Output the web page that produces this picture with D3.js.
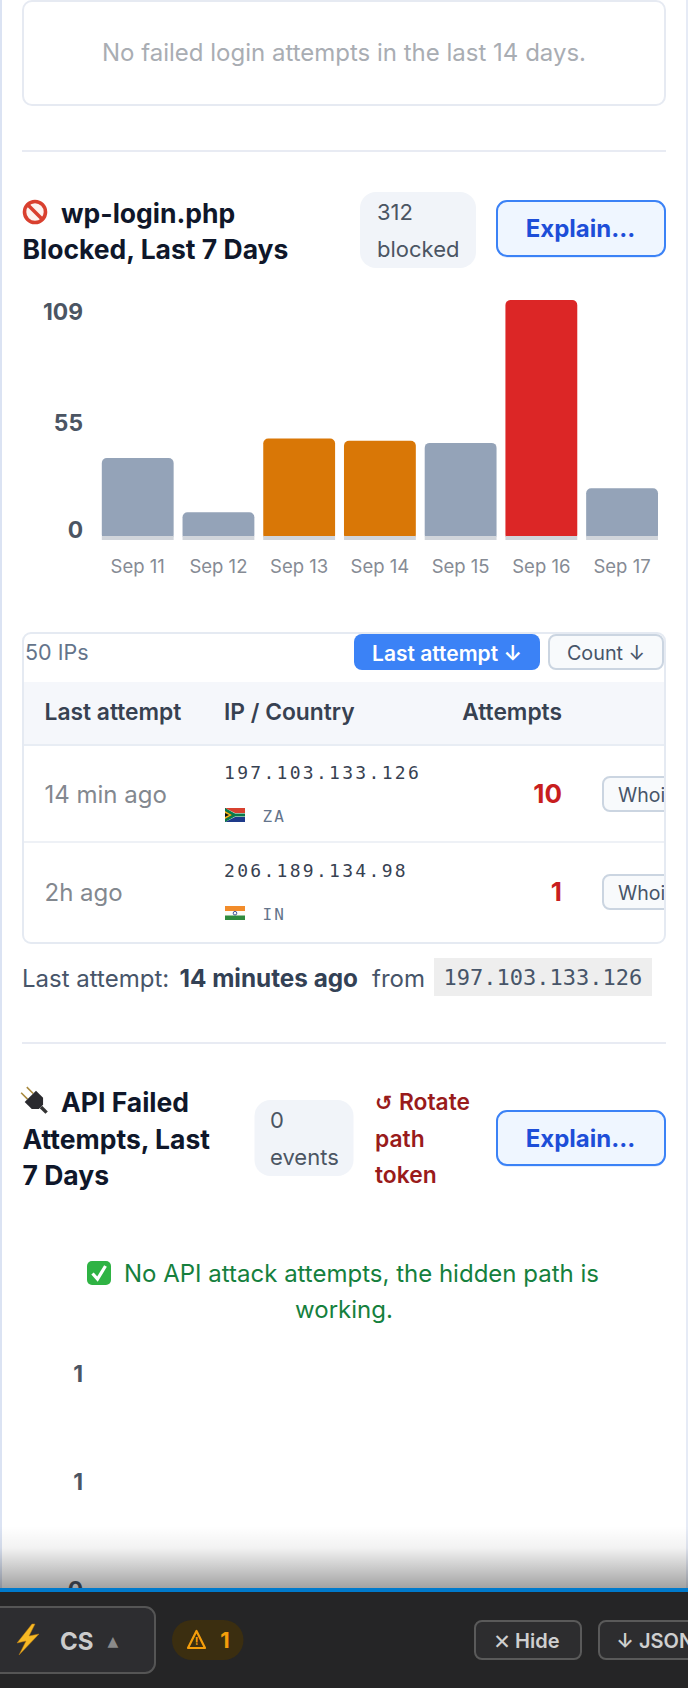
<!DOCTYPE html>
<html><head><meta charset="utf-8">
<script src="https://cdn.jsdelivr.net/npm/d3@7"></script>
<style>html,body{margin:0;padding:0;background:#fff;overflow:hidden}svg{display:block}text{font-family:Inter,"Noto Sans",sans-serif}</style>
</head><body><div id="chart"></div>
<script>
const days = ["Sep 11","Sep 12","Sep 13","Sep 14","Sep 15","Sep 16","Sep 17"];
const blocked = [36,11,45,44,43,109,22];
const blockedTicks = [109,55,0];
const apiTicks = ["1","1","0"];
const ipAge = ["14 min ago","2h ago"];
const ipAddr = ["197.103.133.126","206.189.134.98"];
const ipCountry = ["ZA","IN"];
const ipCount = [10,1];

const MONO='"DejaVu Sans Mono","Liberation Mono",monospace';
const svg=d3.select("#chart").append("svg").attr("width",688).attr("height",1688).attr("viewBox","0 0 688 1688");
const defs=svg.append("defs");
const clip=(id,x,y,w,h)=>defs.append("clipPath").attr("id",id).append("rect").attr("x",x).attr("y",y).attr("width",w).attr("height",h);
clip("cardClip",23,633,641,310);
clip("pageClip",0,0,688,1588);
const grad=defs.append("linearGradient").attr("id","fade").attr("x1",0).attr("x2",0).attr("y1",0).attr("y2",1);
grad.append("stop").attr("offset",0).attr("stop-color","#000").attr("stop-opacity",0);
grad.append("stop").attr("offset",.35).attr("stop-color","#000").attr("stop-opacity",.05);
grad.append("stop").attr("offset",1).attr("stop-color","#000").attr("stop-opacity",.36);

function T(p,x,y,s,o={}){
  const t=p.append("text").attr("x",x).attr("y",y).attr("dy",".36em").text(s)
   .attr("font-size",o.size||20).attr("font-weight",o.w||400).attr("fill",o.c||"#000")
   .attr("text-anchor",o.a||"start")
   .attr("letter-spacing",o.ls||null).attr("clip-path",o.clip||null);
  if(o.f) t.style("font-family",o.f);
  return t;
}
function R(p,x,y,w,h,o={}){
  return p.append("rect").attr("x",x).attr("y",y).attr("width",w).attr("height",h)
   .attr("rx",o.r||0).attr("fill",o.fill||"none").attr("stroke",o.s||null).attr("stroke-width",o.sw||null);
}
function L(p,x1,x2,y,c,sw){p.append("line").attr("x1",x1).attr("x2",x2).attr("y1",y).attr("y2",y).attr("stroke",c).attr("stroke-width",sw||2);}

R(svg,0,0,688,1688,{fill:"#fff"});
R(svg,0,0,2,1588,{fill:"#dbe3f3"}); R(svg,686,0,2,1588,{fill:"#e6ebf6"});

// top empty card
R(svg,23,1,642,104,{r:9,fill:"#fff",s:"#e6eaf2",sw:2});
T(svg,344,52,"No failed login attempts in the last 14 days.",{size:24,c:"#a9adb3",a:"middle"});
L(svg,22,666,151,"#e8ebf3");

// section heading
const titleStyle={size:26.5,w:700,c:"#0f172a"};
function noEntry(p,x,y){
  const g=p.append("g").attr("transform",`translate(${x},${y})`);
  g.append("circle").attr("r",10.5).attr("fill","#fdf3f0").attr("stroke","#d9402f").attr("stroke-width",3.6);
  g.append("line").attr("x1",-7.5).attr("y1",-7.5).attr("x2",7.5).attr("y2",7.5).attr("stroke","#d9402f").attr("stroke-width",3.6);
}
noEntry(svg,35,212);
T(svg,61,213,"wp-login.php",titleStyle);
T(svg,22.5,249,"Blocked, Last 7 Days",titleStyle);
function pill(x,y,w,h,a,b,ax){
  R(svg,x,y,w,h,{r:16,fill:"#f1f4f9"});
  T(svg,ax,y+20,a,{size:22,c:"#4b5563"});
  T(svg,ax,y+57,b,{size:22,c:"#4b5563"});
}
pill(360,192,116,76,"312","blocked",377);
function explain(y,h){
  R(svg,497,y+2,168,h,{r:10,fill:"#3b82f6"}).attr("fill-opacity",.14);
  R(svg,497,y,168,h,{r:10,fill:"#eff6ff",s:"#3b82f6",sw:2});
  T(svg,580.5,y+h/2,"Explain...",{size:24,w:700,c:"#1d4ed8",a:"middle"});
}
explain(201,55);

// bar chart
const x=d3.scaleBand().domain(days).range([101.8,658]).paddingInner(.11).paddingOuter(0);
const y=d3.scaleLinear().domain([0,109]).range([536,300]);
const yLabel=d3.scaleLinear().domain([0,55,109]).range([530,423,312]);
const color=d3.scaleThreshold().domain([44,100]).range(["#94a3b8","#d97706","#dc2626"]);
const gBars=svg.append("g");
gBars.selectAll("rect.bar").data(d3.zip(days,blocked)).join("rect").attr("class","bar")
  .attr("x",d=>x(d[0])).attr("width",x.bandwidth()).attr("y",d=>y(d[1])).attr("height",d=>y(0)-y(d[1])+4)
  .attr("rx",5).attr("fill",d=>color(d[1]));
gBars.selectAll("rect.base").data(days).join("rect").attr("class","base")
  .attr("x",d=>x(d)).attr("width",x.bandwidth()).attr("y",y(0)).attr("height",4).attr("fill","#d1d5db");
svg.append("g").selectAll("text").data(blockedTicks).join("text")
  .attr("x",83).attr("y",d=>yLabel(d)).attr("dy",".36em").attr("text-anchor","end")
  .attr("font-size",22.8).attr("font-weight",700).attr("fill","#4b5563").text(d=>d);
svg.append("g").selectAll("text").data(days).join("text")
  .attr("x",d=>x(d)+x.bandwidth()/2).attr("y",566).attr("dy",".36em").attr("text-anchor","middle")
  .attr("font-size",18.5).attr("fill","#868b94").text(d=>d);

// IP table
const card=svg.append("g");
R(card,23,633,642,310,{r:8,fill:"#fff",s:"#e5eaf2",sw:2});
T(card,25,652,"50 IPs",{size:21.5,c:"#64748b"});
R(card,354,634,186,36,{r:8,fill:"#3b82f6"});
T(card,447,653,"Last attempt ↓",{size:21,w:600,c:"#fff",a:"middle"});
R(card,549,635,114,34,{r:7,fill:"#f8fafc",s:"#cbd5e1",sw:2});
T(card,606,653,"Count ↓",{size:19.8,c:"#475569",a:"middle"});
R(card,24,682,640,62,{fill:"#f5f7fb"});
L(card,24,664,745,"#e8edf4",2);
const hd={size:22.8,w:600,c:"#374151"};
T(card,44.5,712,"Last attempt",hd);
T(card,224,712,"IP / Country",hd);
T(card,562,712,"Attempts",{...hd,a:"end"});
L(card,24,664,842,"#eef1f6",2);
function flagZA(p,x,y){
  const g=p.append("g").attr("transform",`translate(${x},${y})`);
  R(g,0,0,20,14,{fill:"#fff"});
  g.append("path").attr("d","M0 0H20V5H10Z").attr("fill","#d8412f");
  g.append("path").attr("d","M0 14H20V9H10Z").attr("fill","#1e3a8a");
  g.append("path").attr("d","M0 0L9 7L0 14Z").attr("fill","#111");
  g.append("path").attr("d","M0 0L10 5.6H20V8.4H10L0 14V11L7 7L0 3Z").attr("fill","#0a7a4a");
  g.append("path").attr("d","M0 3L7 7L0 11L0 9L4 7L0 5Z").attr("fill","#f4b81c");
}
function flagIN(p,x,y){
  const g=p.append("g").attr("transform",`translate(${x},${y})`);
  R(g,0,0,20,5,{fill:"#f28c2a"}); R(g,0,5,20,4.5,{fill:"#fbfbf6"}); R(g,0,9.5,20,4.5,{fill:"#2e8b3d"});
  g.append("circle").attr("cx",10).attr("cy",7.2).attr("r",1.8).attr("fill","none").attr("stroke","#2b3f8c").attr("stroke-width",.9);
}
const rowY=[794,892], flags=[flagZA,flagIN];
ipAge.forEach((a,i)=>{
  const c=rowY[i];
  T(card,44.5,c,a,{size:24,c:"#83888f"});
  T(card,224,c-21,ipAddr[i],{size:18,c:"#374151",f:MONO,ls:"2.3px"});
  flags[i](card,225,c+14);
  T(card,262.5,c+22,ipCountry[i],{size:16,c:"#64748b",f:MONO,ls:"2px"});
  T(card,562,c,ipCount[i],{size:26,w:700,c:"#c81e1e",a:"end"});
  const g=card.append("g").attr("clip-path","url(#cardClip)");
  R(g,603,c-17,80,34,{r:7,fill:"#f8fafc",s:"#cbd5e1",sw:2});
  T(g,618,c+1,"Whois",{size:19.5,c:"#475569"});
});

// last attempt footer
const ft={size:24,c:"#475569"};
T(svg,22,978,"Last attempt:",ft);
T(svg,179.5,978,"14 minutes ago",{size:24.3,w:700,c:"#334155"});
T(svg,372,978,"from",ft);
R(svg,434,958,218,38,{fill:"#eeeeee"});
T(svg,443.5,977,ipAddr[0],{size:22,c:"#475569",f:MONO});
L(svg,22,666,1043,"#e8ebf3");

// API section
function plug(p,x,y){
  const g=p.append("g").attr("transform",`translate(${x},${y}) rotate(45)`);
  g.append("path").attr("d","M-17 -4H-8M-17 4H-8").attr("stroke","#a98a3f").attr("stroke-width",1.6);
  g.append("path").attr("d","M-8 -8H2L7 -3V3L2 8H-8Z").attr("fill","#2a2a2e");
  g.append("path").attr("d","M7 0H15").attr("stroke","#333").attr("stroke-width",3.4);
}
plug(svg,36,1102);
T(svg,61,1102,"API Failed",titleStyle);
T(svg,22.5,1139,"Attempts, Last",titleStyle);
T(svg,22.5,1175,"7 Days",titleStyle);
pill(254.5,1100,99,76,"0","events",270);
const rot={size:22.8,w:600,c:"#991b1b"};
T(svg,375,1102,"↺",{...rot,f:'"DejaVu Sans"',size:21,w:700});
T(svg,399,1102,"Rotate",rot);
T(svg,375,1139,"path",rot);
T(svg,375,1175,"token",rot);
explain(1111,54);

// green note
const ck=svg.append("g").attr("transform","translate(87,1261)");
R(ck,0,0,24,24,{r:5,fill:"#2fb344"});
ck.append("path").attr("d","M5.5 12.5L10.5 18L18.5 5").attr("fill","none").attr("stroke","#fff").attr("stroke-width",3.2);
const gr={size:24,c:"#15803d"};
T(svg,124,1273,"No API attack attempts, the hidden path is",gr);
T(svg,344,1309,"working.",{...gr,a:"middle"});

// empty API chart axis
const apiY=d3.scalePoint().domain(d3.range(apiTicks.length)).range([1374,1590]);
svg.append("g").attr("clip-path","url(#pageClip)").selectAll("text").data(apiTicks).join("text")
  .attr("x",83).attr("y",(d,i)=>apiY(i)).attr("dy",".36em").attr("text-anchor","end")
  .attr("font-size",22.8).attr("font-weight",700).attr("fill","#4b5563").text(d=>d);

// fade & bottom bar
R(svg,0,1526,688,62,{fill:"url(#fade)"});
R(svg,0,1588,688,4,{fill:"#007acc"});
R(svg,0,1592,688,96,{fill:"#252526"});
R(svg,-12,1607,167,66,{r:10,fill:"#2d2d30",s:"#555",sw:2});
svg.append("path").attr("d","M32 1624L17 1643L26 1641L19 1655L39 1634L29 1636L35 1624Z").attr("fill","#f7b924").attr("stroke","#b97a10").attr("stroke-width",.5);
T(svg,60,1641,"CS",{size:24,w:700,c:"#cccccc"});
T(svg,113,1641,"▲",{size:14,c:"#8a8a8a",a:"middle",f:'"DejaVu Sans"'});
R(svg,172,1620,71.5,40,{r:20,fill:"#3b2e10"});
svg.append("path").attr("d","M196.5 1631L205 1648H188Z").attr("fill","none").attr("stroke","#f59e0b").attr("stroke-width",2.2).attr("stroke-linejoin","round");
T(svg,196.5,1641.5,"!",{size:11,w:700,c:"#f59e0b",a:"middle"});
T(svg,225,1640,"1",{size:22,w:700,c:"#f59e0b",a:"middle"});
R(svg,475,1621,106,38,{r:7,fill:"#2d2d2f",s:"#5a5a5a",sw:2});
T(svg,515,1641,"Hide",{size:20,w:600,c:"#cfcfcf"});
T(svg,502,1641,"✕",{size:21,c:"#cfcfcf",a:"middle",f:'"DejaVu Sans"'});
R(svg,599,1621,120,38,{r:7,fill:"#2d2d2f",s:"#5a5a5a",sw:2});
T(svg,625,1641,"↓",{size:20,w:600,c:"#cfcfcf",a:"middle"});
T(svg,639,1641,"JSON",{size:20,w:600,c:"#cfcfcf"});
</script></body></html>
